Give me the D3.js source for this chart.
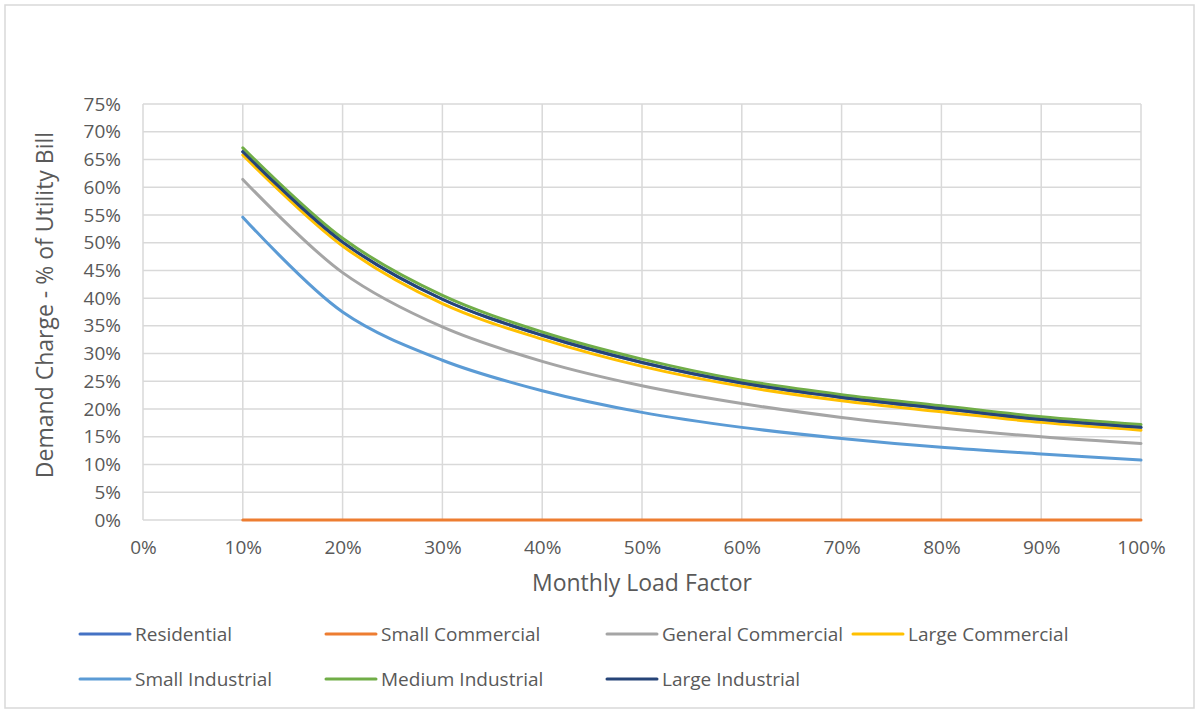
<!DOCTYPE html>
<html>
<head>
<meta charset="utf-8">
<script src="https://cdn.jsdelivr.net/npm/d3@7"></script>
<style>
  html, body { margin: 0; padding: 0; background: #ffffff; }
  svg { display: block; }
  text { font-family: "Open Sans", "Liberation Sans", sans-serif; fill: #595959; }
</style>
</head>
<body>
<svg id="chart" width="1197" height="713"></svg>
<script>
// ---- data ----
const loadFactors = [0.10, 0.20, 0.30, 0.40, 0.50, 0.60, 0.70, 0.80, 0.90, 1.00];
const residential        = [0.664, 0.501, 0.398, 0.333, 0.284, 0.247, 0.221, 0.201, 0.181, 0.167];
const smallCommercial    = [0, 0, 0, 0, 0, 0, 0, 0, 0, 0];
const generalCommercial  = [0.614, 0.446, 0.348, 0.286, 0.242, 0.210, 0.185, 0.166, 0.150, 0.138];
const largeCommercial    = [0.658, 0.494, 0.390, 0.326, 0.277, 0.241, 0.215, 0.195, 0.176, 0.162];
const smallIndustrial    = [0.546, 0.375, 0.288, 0.233, 0.194, 0.167, 0.147, 0.131, 0.119, 0.108];
const mediumIndustrial   = [0.671, 0.508, 0.405, 0.339, 0.290, 0.252, 0.226, 0.206, 0.186, 0.172];
const largeIndustrial    = [0.664, 0.501, 0.398, 0.333, 0.284, 0.247, 0.221, 0.201, 0.181, 0.167];
const seriesNames  = ["Residential", "Small Commercial", "General Commercial", "Large Commercial",
                      "Small Industrial", "Medium Industrial", "Large Industrial"];
const seriesValues = [residential, smallCommercial, generalCommercial, largeCommercial,
                      smallIndustrial, mediumIndustrial, largeIndustrial];
const seriesColors = ["#4472C4", "#ED7D31", "#A5A5A5", "#FFC000", "#5B9BD5", "#70AD47", "#264478"];
const xTicks = [0, 0.1, 0.2, 0.3, 0.4, 0.5, 0.6, 0.7, 0.8, 0.9, 1.0];
const yTicks = [0, 0.05, 0.10, 0.15, 0.20, 0.25, 0.30, 0.35, 0.40, 0.45, 0.50, 0.55, 0.60, 0.65, 0.70, 0.75];
const xTitle = "Monthly Load Factor";
const yTitle = "Demand Charge - % of Utility Bill";

// ---- layout ----
const svg = d3.select("#chart");
const plot = { left: 143, right: 1141, top: 104, bottom: 520 };
const x = d3.scaleLinear().domain([0, 1]).range([plot.left, plot.right]);
const y = d3.scaleLinear().domain([0, 0.75]).range([plot.bottom, plot.top]);
const pct = d3.format(".0%");

// chart border
svg.append("rect").attr("x", 5).attr("y", 5).attr("width", 1189).attr("height", 703)
  .attr("fill", "#fff").attr("stroke", "#d9d9d9").attr("stroke-width", 1.5);

// gridlines
const grid = svg.append("g");
grid.selectAll("line.h").data(yTicks).join("line").attr("class", "h")
  .attr("x1", plot.left).attr("x2", plot.right)
  .attr("y1", d => y(d)).attr("y2", d => y(d))
  .attr("stroke", "#d9d9d9").attr("stroke-width", 1.5);
grid.selectAll("line.v").data(xTicks).join("line").attr("class", "v")
  .attr("y1", plot.top).attr("y2", plot.bottom)
  .attr("x1", d => x(d)).attr("x2", d => x(d))
  .attr("stroke", "#d9d9d9").attr("stroke-width", 1.5);

// axes (labels only)
const yAxis = svg.append("g").attr("transform", `translate(${plot.left - 22},0)`)
  .call(d3.axisLeft(y).tickValues(yTicks).tickFormat(pct).tickSize(0).tickPadding(0));
yAxis.select(".domain").remove();
yAxis.selectAll("text").attr("font-size", 19).attr("fill", "#595959")
  .style("font-family", "'Open Sans', sans-serif");

const xAxis = svg.append("g").attr("transform", `translate(0,${plot.bottom + 20})`)
  .call(d3.axisBottom(x).tickValues(xTicks).tickFormat(pct).tickSize(0).tickPadding(0));
xAxis.select(".domain").remove();
xAxis.selectAll("text").attr("font-size", 19).attr("fill", "#595959")
  .style("font-family", "'Open Sans', sans-serif");

// lines
const line = d3.line().x((d, i) => x(loadFactors[i])).y(d => y(d)).curve(d3.curveCatmullRom.alpha(0.5));
svg.append("g").selectAll("path").data(seriesValues).join("path")
  .attr("d", d => line(d))
  .attr("fill", "none")
  .attr("stroke", (d, i) => seriesColors[i])
  .attr("stroke-width", 3)
  .attr("stroke-linecap", "round")
  .attr("stroke-linejoin", "round");

// titles
svg.append("text").attr("x", (plot.left + plot.right) / 2).attr("y", 583).attr("dy", "0.35em")
  .attr("text-anchor", "middle").attr("font-size", 23).text(xTitle);
svg.append("text").attr("transform", `translate(45,${305}) rotate(-90)`).attr("dy", "0.35em")
  .attr("text-anchor", "middle").attr("font-size", 23).text(yTitle);

// legend
const legendCols = [80, 326, 607, 853];
const legendRows = [634, 679];
const legend = svg.append("g");
seriesNames.forEach((name, i) => {
  const lx = legendCols[i % 4];
  const ly = legendRows[Math.floor(i / 4)];
  legend.append("line").attr("x1", lx).attr("x2", lx + 50).attr("y1", ly).attr("y2", ly)
    .attr("stroke", seriesColors[i]).attr("stroke-width", 3).attr("stroke-linecap", "round");
  legend.append("text").attr("x", lx + 55).attr("y", ly).attr("dy", "0.35em")
    .attr("font-size", 19).text(name);
});
</script>
</body>
</html>
